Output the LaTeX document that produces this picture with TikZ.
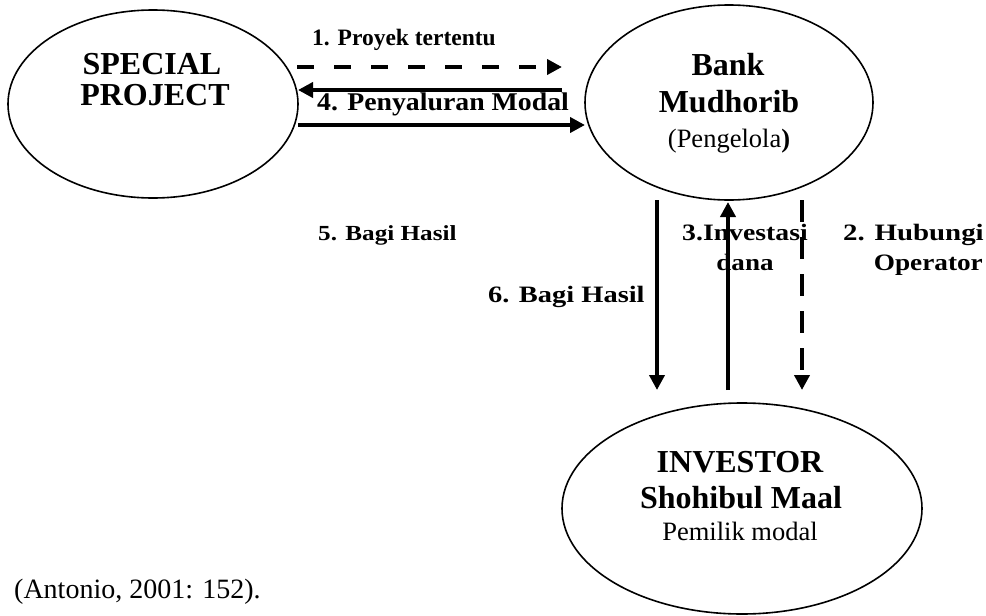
\documentclass[tikz,border=0pt]{standalone}
\usepackage{fontspec}
\usepackage{graphicx}
\setmainfont{Liberation Serif}
\usetikzlibrary{shapes.geometric,arrows.meta}

% bold flow label: size, horizontal stretch, text
\newcommand{\flowlbl}[3]{{\fontsize{#1}{#1}\selectfont\bfseries\scalebox{#2}[1]{#3}}}

\begin{document}
\begin{tikzpicture}[x=1pt,y=-1pt,
  party/.style={draw, ellipse, line width=1.6pt, inner sep=0pt},
  title/.style={inner sep=0pt, anchor=base, font=\fontsize{32}{32}\selectfont\bfseries},
  sub/.style={inner sep=0pt, anchor=base, font=\fontsize{26.5}{26.5}\selectfont},
  lbl/.style={inner sep=0pt},
  flow/.style={line width=4.5pt, -{Triangle[length=15pt,width=15pt]}},
  dashflow/.style={flow, dash pattern=on 17pt off 20pt},
  vdashflow/.style={flow, dash pattern=on 22pt off 15pt}]
\useasboundingbox (0,0) rectangle (986,616);

% the three parties
\node[party, minimum width=290pt, minimum height=188pt] (sp) at (153,104) {};
\node[party, minimum width=288pt, minimum height=195pt] (bank) at (729,102.5) {};
\node[party, minimum width=360pt, minimum height=211pt] (inv) at (742,508.5) {};

\node[title] (sp1) at (152,74) {SPECIAL};
\node[title] (sp2) at (155,105) {PROJECT};

\node[title] (bk1) at (728,75) {Bank};
\node[title] (bk2) at (729,112) {Mudhorib};
\node[sub] (bk3) at (729,147) {(Pengelola\textbf{)}};

\node[title] (iv1) at (740,472) {INVESTOR};
\node[title] (iv2) at (741,508) {Shohibul Maal};
\node[sub] (iv3) at (740,540) {Pemilik modal};

% flow labels
\node[lbl, anchor=base west] (l1) at (312,45) {\flowlbl{23.5}{1.0}{1. Proyek tertentu}};
\node[lbl, anchor=base west] (l4) at (317,110) {\flowlbl{25.5}{1.09}{4. Penyaluran Modal}};
\node[lbl, anchor=base west] (l5) at (318,240) {\flowlbl{21.5}{1.17}{5. Bagi Hasil}};
\node[lbl, anchor=base west] (l3a) at (682,240) {\flowlbl{23.5}{1.18}{3.Investasi}};
\node[lbl, anchor=base] (l3b) at (745,270) {\flowlbl{23.5}{1.15}{dana}};
\node[lbl, anchor=base west] (l2a) at (843,240) {\flowlbl{23.5}{1.23}{2. Hubungi}};
\node[lbl, anchor=base east] (l2b) at (983,270) {\flowlbl{23.5}{1.16}{Operator}};
\node[lbl, anchor=base west] (l6) at (488,302) {\flowlbl{23.5}{1.21}{6. Bagi Hasil}};

% arrow end points
\coordinate (a1s) at (297,67);  \coordinate (a1e) at (562,67);
\coordinate (a4s) at (562,90);  \coordinate (a4e) at (298,90);
\coordinate (a5s) at (298,125); \coordinate (a5e) at (585,125);
\coordinate (a6s) at (657,200); \coordinate (a6e) at (657,390);
\coordinate (a3s) at (728,390); \coordinate (a3e) at (728,202);
\coordinate (a2s) at (802,200); \coordinate (a2e) at (802,390);

% flows between the parties
\draw[dashflow] (a1s) -- (a1e);
\draw[flow] (a4s) -- (a4e);
\draw[flow] (a5s) -- (a5e);
\draw[flow] (a6s) -- (a6e);
\draw[flow] (a3s) -- (a3e);
\draw[vdashflow] (a2s) -- (a2e);

% source
\node[inner sep=0pt, anchor=base west, font=\fontsize{28}{28}\selectfont] (src) at (14,598) {(Antonio, 2001: 152).};
\end{tikzpicture}
\end{document}
